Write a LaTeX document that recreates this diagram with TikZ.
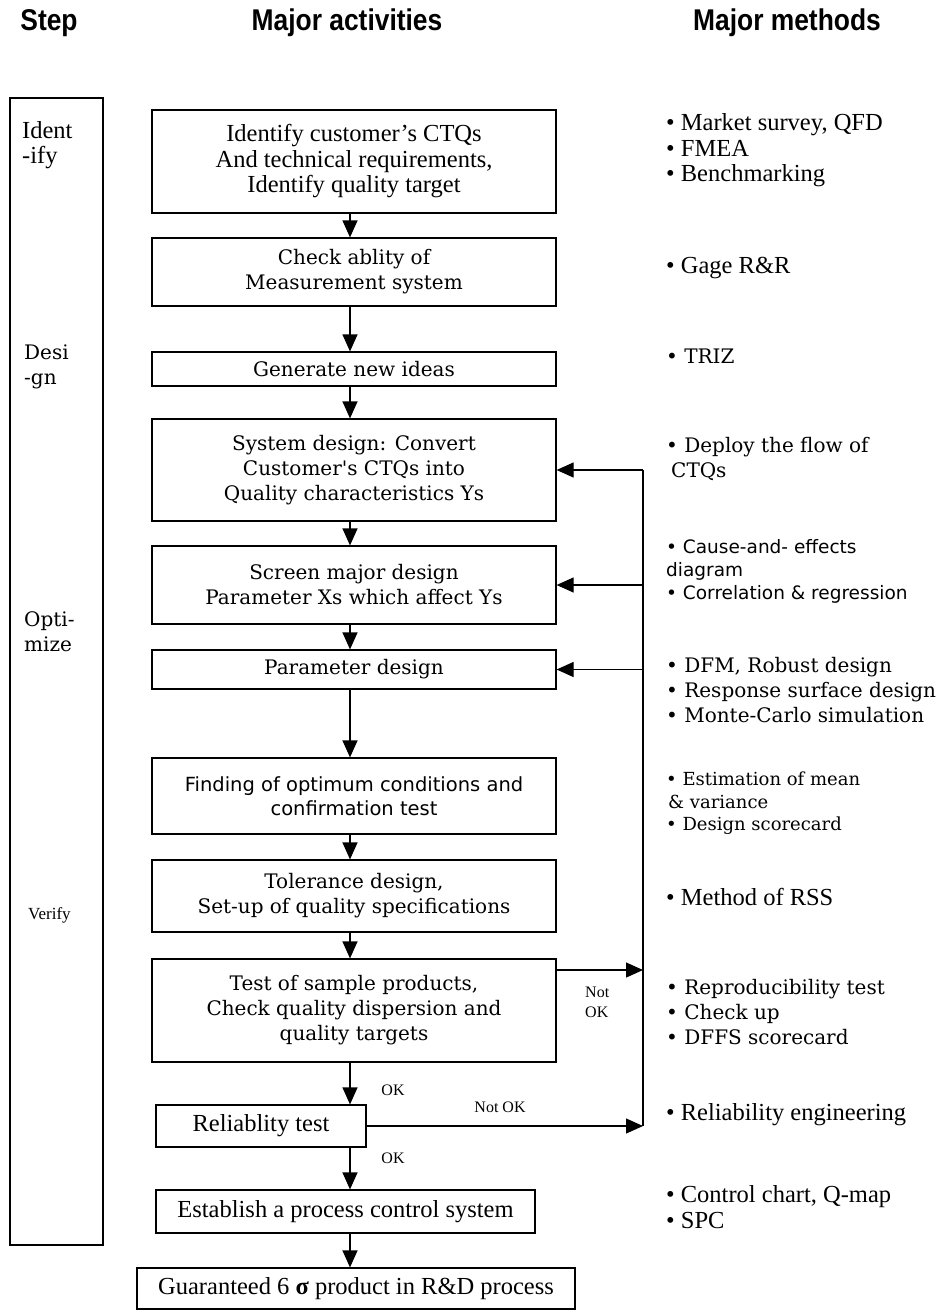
\documentclass[tikz,border=0pt]{standalone}
\usepackage{fontspec}
\setmainfont{Liberation Serif}
\newfontfamily\btfont{DejaVu Serif}
\newfontfamily\gufont{DejaVu Sans}
\newfontfamily\hdfont[FakeStretch=0.88]{Liberation Sans}
\usepackage{tikz}
\usetikzlibrary{calc,arrows.meta}

\tikzset{
  actbox/.style={draw, line width=1.2pt, minimum width=404pt, align=center, inner sep=0pt},
  flow/.style={-{Triangle[length=17pt,width=15pt]}, line width=1.2pt},
  tms/.style={font=\fontsize{24.5}{25.5}\selectfont},
  btg/.style={font=\btfont\fontsize{20}{25}\selectfont},
  gul/.style={font=\gufont\fontsize{19.5}{24}\selectfont},
  method/.style={anchor=west, align=left, inner sep=0pt},
  head/.style={font=\hdfont\bfseries\fontsize{30}{30}\selectfont, inner sep=0pt},
  small/.style={font=\fontsize{16}{20}\selectfont, inner sep=0pt}
}

\begin{document}
\begin{tikzpicture}[x=1pt,y=-1pt]
  \useasboundingbox (0,0) rectangle (937,1310);

  %% Column headings
  \node[head] (STEP) at (49,23) {Step};
  \node[head] (ACTIV) at (347,23) {Major activities};
  \node[head] (METH) at (787,23) {Major methods};

  %% Step column
  \node[draw, line width=1.2pt, minimum width=93pt, minimum height=1147pt, inner sep=0pt]
    (stepcol) at (56.5,671.5) {};
  \node[tms, anchor=west, align=left, inner sep=0pt] (IDENT) at (22,145) {Ident\\-ify};
  \node[btg, anchor=west, align=left, inner sep=0pt] (DESIGN) at (24,367) {Desi\\-gn};
  \node[btg, anchor=west, align=left, inner sep=0pt] (OPTIM) at (24,632) {Opti-\\mize};
  \node[small, font=\fontsize{17}{20}\selectfont, anchor=west] (VERIFY) at (28,915) {Verify};

  %% Major activities
  \node[actbox, tms, minimum height=103pt] (identify) at (354,161.5)
    {Identify customer's CTQs\\And technical requirements,\\Identify quality target};
  \node[actbox, btg, minimum height=68pt] (check) at (354,272)
    {Check ablity of\\Measurement system};
  \node[actbox, btg, minimum height=34pt] (generate) at (354,369)
    {Generate new ideas};
  \node[actbox, btg, minimum height=102pt] (system) at (354,470)
    {System design: Convert\\Customer's CTQs into\\Quality characteristics Ys};
  \node[actbox, btg, minimum height=78pt] (screen) at (354,585)
    {Screen major design\\Parameter Xs which affect Ys};
  \node[actbox, btg, minimum height=39pt] (param) at (354,669.5)
    {Parameter design};
  \node[actbox, gul, minimum height=76pt] (finding) at (354,796)
    {Finding of optimum conditions and\\confirmation test};
  \node[actbox, btg, minimum height=72pt] (tolerance) at (354,896)
    {Tolerance design,\\Set-up of quality specifications};
  \node[actbox, btg, minimum height=103pt] (test) at (354,1010.5)
    {Test of sample products,\\Check quality dispersion and\\quality targets};
  \node[actbox, tms, minimum width=210pt, minimum height=42pt] (reliab) at (261,1126)
    {Reliablity test};
  \node[actbox, tms, minimum width=379pt, minimum height=43pt] (establish) at (345.5,1211.5)
    {Establish a process control system};
  \node[actbox, tms, minimum width=438pt, minimum height=41pt] (guaranteed) at (356,1288.5)
    {Guaranteed 6 \textbf{σ} product in R\&D process};

  %% Downward flow
  \coordinate (col) at (350,0);
  \foreach \a/\b in {identify/check,check/generate,generate/system,system/screen,
                     screen/param,param/finding,finding/tolerance,tolerance/test,
                     test/reliab,reliab/establish,establish/guaranteed}
  {
    \draw[flow] (\a.south -| col) -- (\b.north -| col);
  }
  \node[small] (OK1) at (393,1090) {OK};
  \node[small] (OK2) at (393,1158) {OK};

  %% Feedback line
  \coordinate (fb) at (643,0);
  \coordinate (notok) at (643,970);
  \draw[line width=1.2pt] (fb |- system.east) -- (fb |- reliab.east);
  \foreach \x in {system,screen,param}
  {
    \draw[flow] (fb |- \x.east) -- (\x.east);
  }
  \draw[flow] (test.east |- notok) -- (notok);
  \draw[flow] (reliab.east) -- (fb |- reliab.east);
  \node[small, anchor=west, align=left] (NOTOK1) at (585,1002) {Not\\OK};
  \node[small] (NOTOK2) at (500,1107) {Not OK};

  %% Major methods
  \node[method, tms] (mk) at (666,150.5) {• Market survey, QFD\\• FMEA\\• Benchmarking};
  \node[method, tms] (gage) at (666,268) {• Gage R\&R};
  \node[method, btg] (triz) at (666,356) {• TRIZ};
  \node[method, btg] (deploy) at (666,459) {• Deploy the flow of\\\hspace{5pt}CTQs};
  \node[method, font=\gufont\fontsize{18.5}{23}\selectfont] (cause) at (666,571)
    {• Cause-and- effects\\diagram\\• Correlation \& regression};
  \node[method, btg] (dfm) at (666,690.5)
    {• DFM, Robust design\\• Response surface design\\• Monte-Carlo simulation};
  \node[method, font=\btfont\fontsize{18}{22.5}\selectfont] (estim) at (666,803.5)
    {• Estimation of mean\\\hspace{2pt}\& variance\\• Design scorecard};
  \node[method, tms] (rss) at (666,897) {• Method of RSS};
  \node[method, btg] (repro) at (666,1012.5)
    {• Reproducibility test\\• Check up\\• DFFS scorecard};
  \node[method, tms] (releng) at (666,1115) {• Reliability engineering};
  \node[method, tms] (ctrl) at (666,1207) {• Control chart, Q-map\\• SPC};

\end{tikzpicture}
\end{document}
